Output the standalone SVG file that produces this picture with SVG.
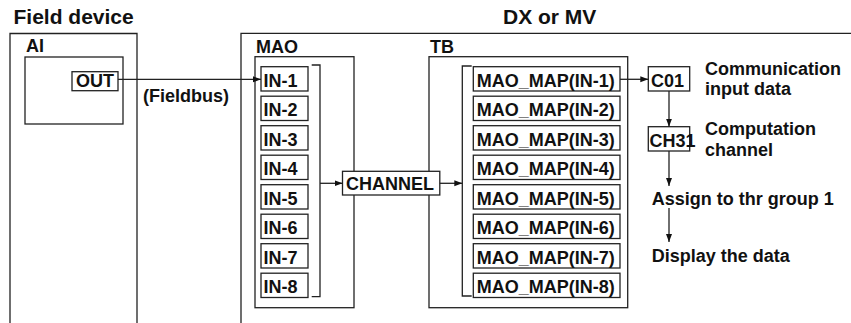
<svg xmlns="http://www.w3.org/2000/svg" width="851" height="323" viewBox="0 0 851 323">
<defs>
<style>
text{font-family:"Liberation Sans",Arial,Helvetica,sans-serif;font-weight:bold;fill:#111;}
.t{font-size:18px;}
.h{font-size:21px;}
.box{fill:#fff;stroke:#222;stroke-width:1.3;}
.frame{fill:none;stroke:#222;stroke-width:1.3;}
.ln{fill:none;stroke:#222;stroke-width:1.3;}
</style>
<marker id="arr" markerUnits="userSpaceOnUse" markerWidth="9" markerHeight="7" refX="8" refY="3" orient="auto">
<path d="M0,0 L8,3 L0,6 z" fill="#111"/>
</marker>
</defs>
<rect width="851" height="323" fill="#fff"/>

<g id="field-device">
<text class="h" x="13.5" y="23.5">Field device</text>
<path class="frame" d="M10,323 V33.5 H137 V323"/>
</g>
<g id="ai">
<rect class="box" x="25" y="57" width="98" height="67"/>
<text class="t" x="26" y="52">AI</text>
</g>
<g id="out">
<rect class="box" x="72" y="71.7" width="46" height="19"/>
<text class="t" x="76" y="86.5">OUT</text>
</g>
<g id="fieldbus-label">
<text class="t" x="143" y="102">(Fieldbus)</text>
</g>

<g id="dx-mv">
<text class="h" x="503" y="23.5">DX or MV</text>
<path class="frame" d="M241,323 V33.3 H851"/>
</g>

<g id="mao">
<rect class="box" x="255" y="56.7" width="99" height="251"/>
<text class="t" x="256" y="52.5">MAO</text>
</g>
<g id="tb">
<rect class="box" x="429" y="56.7" width="198.7" height="251"/>
<text class="t" x="430" y="52.5">TB</text>
</g>

<g id="in-1"><rect class="box" x="261" y="66.7" width="47" height="24.3"/><text class="t" x="263.5" y="86.7">IN-1</text></g>
<g id="in-2"><rect class="box" x="261" y="96.2" width="47" height="24.3"/><text class="t" x="263.5" y="116.2">IN-2</text></g>
<g id="in-3"><rect class="box" x="261" y="125.7" width="47" height="24.3"/><text class="t" x="263.5" y="145.7">IN-3</text></g>
<g id="in-4"><rect class="box" x="261" y="155.2" width="47" height="24.3"/><text class="t" x="263.5" y="175.2">IN-4</text></g>
<g id="in-5"><rect class="box" x="261" y="184.7" width="47" height="24.3"/><text class="t" x="263.5" y="204.7">IN-5</text></g>
<g id="in-6"><rect class="box" x="261" y="214.2" width="47" height="24.3"/><text class="t" x="263.5" y="234.2">IN-6</text></g>
<g id="in-7"><rect class="box" x="261" y="243.7" width="47" height="24.3"/><text class="t" x="263.5" y="263.7">IN-7</text></g>
<g id="in-8"><rect class="box" x="261" y="273.2" width="47" height="24.3"/><text class="t" x="263.5" y="293.2">IN-8</text></g>

<g id="map-1"><rect class="box" x="473.3" y="66.7" width="146.7" height="24.3"/><text class="t" x="476.7" y="86.7">MAO_MAP(IN-1)</text></g>
<g id="map-2"><rect class="box" x="473.3" y="96.2" width="146.7" height="24.3"/><text class="t" x="476.7" y="116.2">MAO_MAP(IN-2)</text></g>
<g id="map-3"><rect class="box" x="473.3" y="125.7" width="146.7" height="24.3"/><text class="t" x="476.7" y="145.7">MAO_MAP(IN-3)</text></g>
<g id="map-4"><rect class="box" x="473.3" y="155.2" width="146.7" height="24.3"/><text class="t" x="476.7" y="175.2">MAO_MAP(IN-4)</text></g>
<g id="map-5"><rect class="box" x="473.3" y="184.7" width="146.7" height="24.3"/><text class="t" x="476.7" y="204.7">MAO_MAP(IN-5)</text></g>
<g id="map-6"><rect class="box" x="473.3" y="214.2" width="146.7" height="24.3"/><text class="t" x="476.7" y="234.2">MAO_MAP(IN-6)</text></g>
<g id="map-7"><rect class="box" x="473.3" y="243.7" width="146.7" height="24.3"/><text class="t" x="476.7" y="263.7">MAO_MAP(IN-7)</text></g>
<g id="map-8"><rect class="box" x="473.3" y="273.2" width="146.7" height="24.3"/><text class="t" x="476.7" y="293.2">MAO_MAP(IN-8)</text></g>

<g id="channel">
<rect class="box" x="342.5" y="171.3" width="97.3" height="23.7"/>
<text class="t" x="346" y="189.5">CHANNEL</text>
</g>

<g id="c01">
<rect class="box" x="648.3" y="66.7" width="41.4" height="24.3"/>
<text class="t" x="651" y="86.7">C01</text>
<text class="t" x="705" y="75">Communication</text>
<text class="t" x="705" y="95">input data</text>
</g>
<g id="ch31">
<rect class="box" x="648.3" y="126.7" width="41.4" height="24.3"/>
<text class="t" x="649.5" y="146.5">CH31</text>
<text class="t" x="705" y="135">Computation</text>
<text class="t" x="705" y="155.5">channel</text>
</g>
<g id="assign">
<text class="t" x="651.7" y="205">Assign to thr group 1</text>
</g>
<g id="display">
<text class="t" x="651.7" y="261.5">Display the data</text>
</g>

<g id="connectors">
<path class="ln" d="M118,79.3 H261" marker-end="url(#arr)"/>
<path class="ln" d="M311.7,65 H320 V296.7 H311.7"/>
<path class="ln" d="M320,183.3 H342.5" marker-end="url(#arr)"/>
<path class="ln" d="M439.8,183.3 H462.3" marker-end="url(#arr)"/>
<path class="ln" d="M471.7,66 H462.3 V296 H471.7"/>
<path class="ln" d="M620,79.3 H648.3" marker-end="url(#arr)"/>
<path class="ln" d="M669,91 V126.7" marker-end="url(#arr)"/>
<path class="ln" d="M669,151 V186" marker-end="url(#arr)"/>
<path class="ln" d="M669,208 V242" marker-end="url(#arr)"/>
</g>
</svg>
